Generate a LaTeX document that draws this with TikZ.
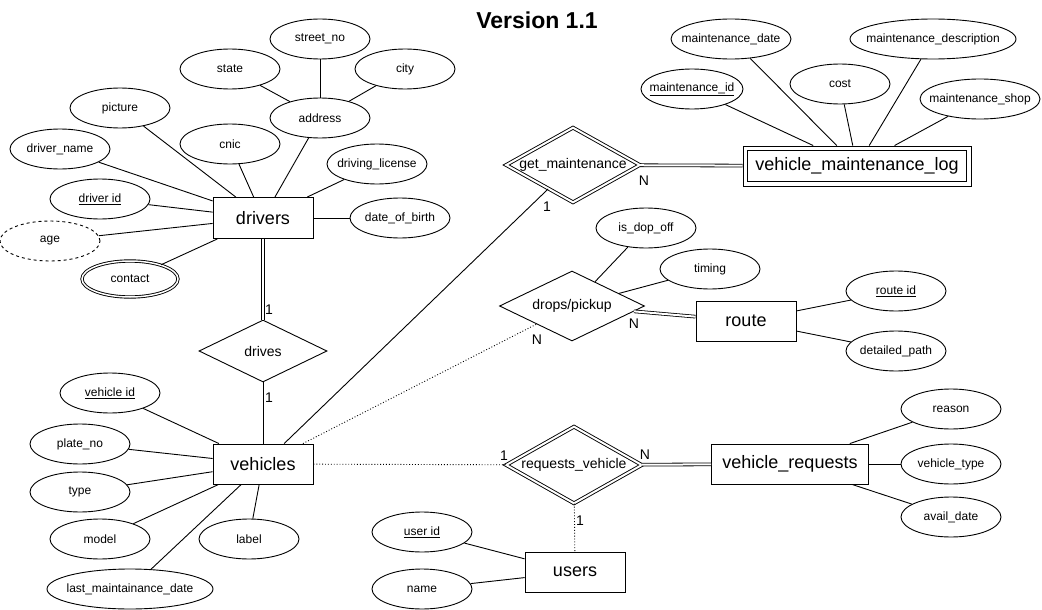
\documentclass[tikz,border=0pt]{standalone}
\usepackage{fontspec}
\setmainfont{Liberation Sans}
\usetikzlibrary{shapes.geometric,calc}
\newcommand\zb[1]{\makebox[0pt]{#1}}
\begin{document}
\begin{tikzpicture}[x=1pt,y=-1pt,
 attr/.style={ellipse, draw, line width=0.9pt, minimum width=100pt, minimum height=40pt, inner sep=0pt, font=\fontsize{12}{14}\selectfont},
 ent/.style={rectangle, draw, line width=0.9pt, minimum width=100pt, minimum height=40pt, inner sep=0pt, font=\fontsize{18}{20}\selectfont},
 rel/.style={diamond, draw, line width=0.9pt, inner sep=0pt, font=\fontsize{14}{16}\selectfont},
 link/.style={line width=0.9pt},
 dlink/.style={double, double distance=2pt, line width=0.8pt},
 dotlink/.style={line width=0.9pt, dotted},
 card/.style={font=\fontsize{14}{16}\selectfont, inner sep=0pt}]
\useasboundingbox (0,0) rectangle (1042,610);

\node[font=\fontsize{23}{26}\selectfont\bfseries] (title) at (537,20) {Version 1.1};

% entities
\node[ent, minimum height=41pt] (drivers) at (263,218) {drivers};
\node[ent] (vehicles) at (263,464) {vehicles};
\node[ent] (route) at (746,321) {route};
\node[ent, minimum width=157pt] (vreq) at (790,464) {vehicle\_requests};
\node[ent] (users) at (575,572) {users};
\node[ent, minimum width=228pt, minimum height=40pt] (vml) at (857,166) {vehicle\_maintenance\_log};
\draw[line width=0.9pt] ($(vml.north west)+(5,5)$) rectangle ($(vml.south east)+(-5,-5)$);

% relationships
\node[rel, minimum width=128pt, minimum height=62pt] (drives) at (263,351) {\zb{drives}};
\node[rel, double, double distance=2pt, minimum width=134pt, minimum height=75pt] (getm) at (573,165) {\zb{get\_maintenance}};
\node[rel, minimum width=145pt, minimum height=70pt] (drops) at (572,306) {\zb{drops/pickup}};
\node[rel, double, double distance=2pt, minimum width=136pt, minimum height=77pt] (reqv) at (574,465) {\zb{requests\_vehicle}};

% driver attributes
\node[attr] (picture) at (120,108) {\zb{picture}};
\node[attr] (dname) at (60,149) {\zb{driver\_name}};
\node[attr] (did) at (100,199) {\zb{\underline{driver id}}};
\node[attr, dashed] (age) at (50,241) {\zb{age}};
\node[attr, double, double distance=1.5pt, minimum width=96pt, minimum height=36pt] (contact) at (130,279) {\zb{contact}};
\node[attr] (cnic) at (230,144) {\zb{cnic}};
\node[attr] (address) at (320,118) {\zb{address}};
\node[attr] (state) at (230,69) {\zb{state}};
\node[attr] (street) at (320,39) {\zb{street\_no}};
\node[attr] (city) at (405,69) {\zb{city}};
\node[attr] (dlic) at (377,164) {\zb{driving\_license}};
\node[attr] (dob) at (400,218) {\zb{date\_of\_birth}};

% vehicle attributes
\node[attr] (vid) at (110,393) {\zb{\underline{vehicle id}}};
\node[attr] (plate) at (80,444) {\zb{plate\_no}};
\node[attr] (type) at (80,492) {\zb{type}};
\node[attr] (model) at (100,539) {\zb{model}};
\node[attr] (label) at (249,539) {\zb{label}};
\node[attr, minimum width=166pt] (lmd) at (130,589) {\zb{last\_maintainance\_date}};

% maintenance attributes
\node[attr, minimum width=120pt] (mdate) at (731,39) {\zb{maintenance\_date}};
\node[attr, minimum width=166pt] (mdesc) at (933,39) {\zb{maintenance\_description}};
\node[attr, minimum width=102pt] (mid) at (692,89) {\zb{\underline{maintenance\_id}}};
\node[attr] (cost) at (840,84) {\zb{cost}};
\node[attr, minimum width=120pt] (mshop) at (980,99) {\zb{maintenance\_shop}};

% drops attributes
\node[attr] (isdrop) at (646,228) {\zb{is\_dop\_off}};
\node[attr] (timing) at (710,269) {\zb{timing}};

% route attributes
\node[attr] (rid) at (896,291) {\zb{\underline{route id}}};
\node[attr] (dpath) at (896,351) {\zb{detailed\_path}};

% request attributes
\node[attr] (reason) at (951,409) {\zb{reason}};
\node[attr] (vtype) at (951,464) {\zb{vehicle\_type}};
\node[attr] (adate) at (951,517) {\zb{avail\_date}};

% user attributes
\node[attr] (uid) at (422,532) {\zb{\underline{user id}}};
\node[attr] (uname) at (422,589) {\zb{name}};

% attribute links
\foreach \a in {picture,dname,did,age,contact,cnic,address,dlic,dob}
  \draw[link] (\a) -- (drivers);
\foreach \a in {state,street,city}
  \draw[link] (\a) -- (address);
\foreach \a in {vid,plate,type,model,label,lmd}
  \draw[link] (\a) -- (vehicles);
\foreach \a in {mdate,mdesc,mid,cost,mshop}
  \draw[link] (\a) -- (vml);
\foreach \a in {isdrop,timing}
  \draw[link] (\a) -- (drops);
\foreach \a in {rid,dpath}
  \draw[link] (\a) -- (route);
\foreach \a in {reason,vtype,adate}
  \draw[link] (\a) -- (vreq);
\foreach \a in {uid,uname}
  \draw[link] (\a) -- (users);

% relationship links
\draw[dlink] (drivers) -- (drives);
\draw[link] (drives) -- (vehicles);
\draw[link] (vehicles) -- (getm);
\draw[dlink] (getm) -- (vml);
\draw[dotlink] (vehicles) -- (drops);
\draw[dlink] (drops) -- (route);
\draw[dotlink] (vehicles) -- (reqv);
\draw[dlink] (reqv) -- (vreq);
\draw[dotlink] (reqv) -- (users);

% cardinalities
\node[card] (c1) at (269,310) {1};
\node[card] (c2) at (269,398) {1};
\node[card] (c3) at (547,207) {1};
\node[card] (c4) at (644,181) {N};
\node[card] (c5) at (634,324) {N};
\node[card] (c6) at (537,340) {N};
\node[card] (c7) at (504,456) {1};
\node[card] (c8) at (645,455) {N};
\node[card] (c9) at (580,521) {1};
\end{tikzpicture}
\end{document}
